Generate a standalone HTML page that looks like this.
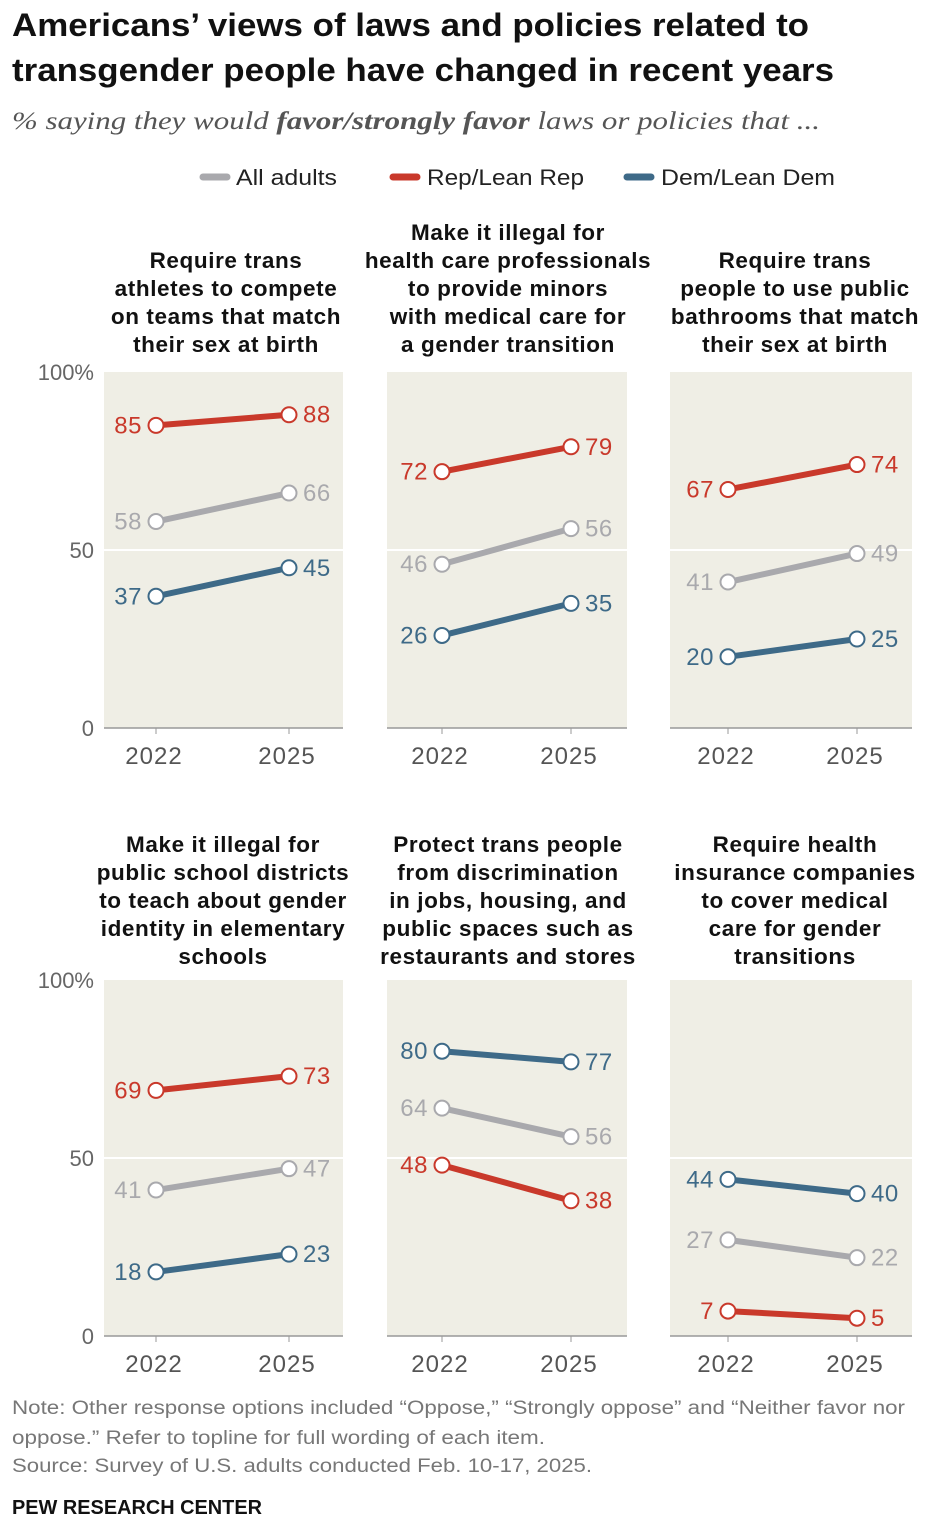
<!DOCTYPE html>
<html><head><meta charset="utf-8"><style>
body{margin:0;background:#fff;width:950px;height:1534px;overflow:hidden}
svg{display:block;font-family:"Liberation Sans",sans-serif}
</style></head><body>
<svg id="c" width="950" height="1534" viewBox="0 0 950 1534">
<text x="12" y="36" font-size="32" font-weight="bold" fill="#111" textLength="797" lengthAdjust="spacingAndGlyphs">Americans’ views of laws and policies related to</text>
<text x="12" y="81" font-size="32" font-weight="bold" fill="#111" textLength="822" lengthAdjust="spacingAndGlyphs">transgender people have changed in recent years</text>
<text x="12" y="129" font-size="25" font-style="italic" fill="#555" font-family="Liberation Serif,serif" textLength="808" lengthAdjust="spacingAndGlyphs">% saying they would <tspan font-weight="bold">favor/strongly favor</tspan> laws or policies that ...</text>
<g>
<line x1="203" y1="177" x2="227" y2="177" stroke="#a9a9ad" stroke-width="7" stroke-linecap="round"/>
<text x="236" y="185" font-size="22" fill="#222" textLength="101" lengthAdjust="spacingAndGlyphs">All adults</text>
<line x1="393" y1="177" x2="417" y2="177" stroke="#c9392b" stroke-width="7" stroke-linecap="round"/>
<text x="427" y="185" font-size="22" fill="#222" textLength="157" lengthAdjust="spacingAndGlyphs">Rep/Lean Rep</text>
<line x1="627" y1="177" x2="651" y2="177" stroke="#3e6a88" stroke-width="7" stroke-linecap="round"/>
<text x="661" y="185" font-size="22" fill="#222" textLength="174" lengthAdjust="spacingAndGlyphs">Dem/Lean Dem</text>
</g>
<text x="12" y="1414" font-size="19" fill="#777" textLength="893" lengthAdjust="spacingAndGlyphs">Note: Other response options included “Oppose,” “Strongly oppose” and “Neither favor nor</text>
<text x="12" y="1444" font-size="19" fill="#777" textLength="533" lengthAdjust="spacingAndGlyphs">oppose.” Refer to topline for full wording of each item.</text>
<text x="12" y="1472" font-size="19" fill="#777" textLength="580" lengthAdjust="spacingAndGlyphs">Source: Survey of U.S. adults conducted Feb. 10-17, 2025.</text>
<text x="12" y="1514" font-size="20" font-weight="bold" fill="#111" textLength="250" lengthAdjust="spacingAndGlyphs">PEW RESEARCH CENTER</text>
</svg>
<script>
const titles=[
["Require trans","athletes to compete","on teams that match","their sex at birth"],
["Make it illegal for","health care professionals","to provide minors","with medical care for","a gender transition"],
["Require trans","people to use public","bathrooms that match","their sex at birth"],
["Make it illegal for","public school districts","to teach about gender","identity in elementary","schools"],
["Protect trans people","from discrimination","in jobs, housing, and","public spaces such as","restaurants and stores"],
["Require health","insurance companies","to cover medical","care for gender","transitions"]];
const years=["2022","2025"];
const allAdults=[[58,66],[46,56],[41,49],[41,47],[64,56],[27,22]];
const rep=[[85,88],[72,79],[67,74],[69,73],[48,38],[7,5]];
const dem=[[37,45],[26,35],[20,25],[18,23],[80,77],[44,40]];
const yTicks=[0,50,100];
const NS="http://www.w3.org/2000/svg";
const svg=document.getElementById('c');
function mk(tag,a,p){const e=document.createElementNS(NS,tag);for(const k in a)e.setAttribute(k,a[k]);(p||svg).appendChild(e);return e;}
const panelX=[[104,343],[387,627],[670,912]];
const xPts=[[156,289],[442,571],[728,857]];
const titleCx=[226,508,795];
const rowBase=[728,1336];
const H=356;
for(let i=0;i<6;i++){
 const col=i%3,row=Math.floor(i/3);
 const base=rowBase[row];
 const y=v=>base-v/100*H;
 const xs=xPts[col];
 const g=mk('g',{});
 
 
 const bg=mk('rect',{x:panelX[col][0],y:y(100),width:panelX[col][1]-panelX[col][0],height:H,fill:'#efeee5'},g);
 
 
 mk('line',{x1:panelX[col][0],x2:panelX[col][1],y1:y(50),y2:y(50),stroke:'#fff','stroke-width':2},g);
 mk('line',{x1:panelX[col][0],x2:panelX[col][1],y1:base,y2:base,stroke:'#999','stroke-width':1.5},g);
 const cx=titleCx[col]-(row==1&&col==0?3:0);
 const t=titles[i];
 const lastBase=row==0?352:964;
 t.forEach((s,k)=>{const tt=mk('text',{x:cx,y:lastBase-(t.length-1-k)*28,'font-size':22.5,'font-weight':'bold','text-anchor':'middle',fill:'#111','letter-spacing':0.6},g);tt.textContent=s;
  
  });
 years.forEach((yr,k)=>{mk('line',{x1:xs[k],x2:xs[k],y1:base,y2:base+6,stroke:'#999'},g);
  const tt=mk('text',{x:xs[k]-2,y:base+36,'font-size':24,'text-anchor':'middle',fill:'#555','letter-spacing':1},g);tt.textContent=yr;
  
  });
 if(col==0){yTicks.forEach(v=>{const tt=mk('text',{x:94,y:y(v)+8,'font-size':22,'text-anchor':'end',fill:'#666'},svg);tt.textContent=v==100?'100%':v;
  
  });}
 [[allAdults,'#a9a9ad','all-adults'],[rep,'#c9392b','rep'],[dem,'#3e6a88','dem']].forEach(([d,c,n])=>{
  const v=d[i];
  const ln=mk('line',{x1:xs[0],y1:y(v[0]),x2:xs[1],y2:y(v[1]),stroke:c,'stroke-width':6},g);
  
  
  v.forEach((val,k)=>{
   const ci=mk('circle',{cx:xs[k],cy:y(val),r:7.5,fill:'#fff',stroke:c,'stroke-width':2},g);
   
   
   const tt=mk('text',{x:k==0?xs[k]-14:xs[k]+14,y:y(val)+8,'font-size':24,'text-anchor':k==0?'end':'start',fill:c,'letter-spacing':0.5},g);
   tt.textContent=val;
   
   
  });
 });
}
</script>
</body></html>
